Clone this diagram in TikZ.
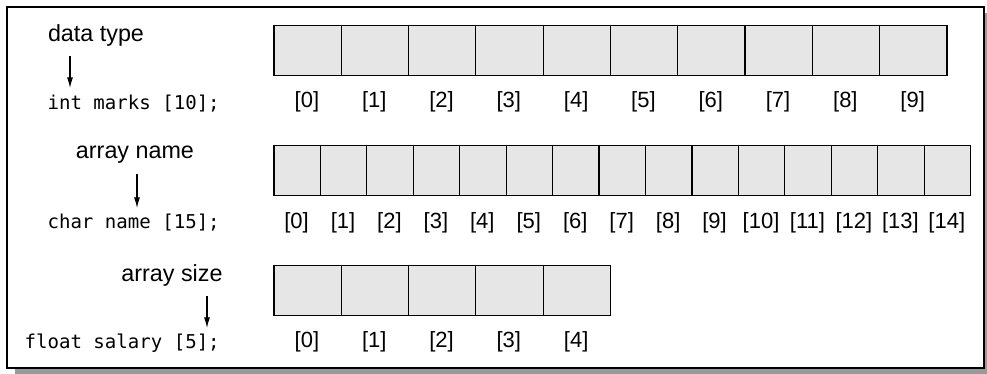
\documentclass[tikz,border=0pt]{standalone}
\usepackage{fontspec}
\setmainfont{Liberation Sans}
\setmonofont{DejaVu Sans Mono}
\usetikzlibrary{arrows.meta,positioning}
\definecolor{cellgray}{HTML}{E6E6E6}
\definecolor{shadowgray}{HTML}{9A9A9A}
\tikzset{
  cell/.style={draw=black, fill=cellgray, line width=0.9pt, minimum height=37.5pt, inner sep=0pt, anchor=north west},
  idx/.style={font=\fontsize{16.5}{19}\selectfont, inner sep=0pt},
  decl/.style={font=\ttfamily\fontsize{14.3}{17}\selectfont, anchor=east, inner sep=0pt},
  tag/.style={font=\fontsize{17.5}{20}\selectfont, inner sep=0pt},
  pointer/.style={-{Latex[length=8pt,width=4.5pt]}, line width=0.8pt}
}
\begin{document}
\begin{tikzpicture}[x=0.75pt,y=-0.75pt]
\useasboundingbox (0,0) rectangle (987,374);
% frame with shadow
\fill[shadowgray] (15,13) rectangle (987,374);
\draw[line width=1.4pt, fill=white] (7,7) rectangle (984,368);

% int marks [10]
\foreach \i in {0,...,9} {
  \node[cell, minimum width=50.475pt] (m\i) at ({273.3+67.3*\i},25) {};
  \node[idx] (mi\i) at ({273.3+67.3*(\i+0.5)},102) {[\i]};
}
% char name [15]
\foreach \i in {0,...,14} {
  \node[cell, minimum width=34.84pt] (n\i) at ({273.3+46.45*\i},145) {};
  \node[idx] (ni\i) at ({273.3+46.45*(\i+0.5)},223) {[\i]};
}
% float salary [5]
\foreach \i in {0,...,4} {
  \node[cell, minimum width=50.475pt] (s\i) at ({273.3+67.3*\i},265) {};
  \node[idx] (si\i) at ({273.3+67.3*(\i+0.5)},342) {[\i]};
}

% declarations
\node[decl] (c1) at (220,104) {int marks [10];};
\node[decl] (c2) at (220,223) {char name [15];};
\node[decl] (c3) at (220,343) {float salary [5];};

% what the parts are
\node[tag] (t1) at (96,35) {data type};
\node[tag] (t2) at (135,155) {array name};
\node[tag] (t3) at (172,275) {array size};
\coordinate (h1) at (70,88);
\coordinate (h2) at (137,208);
\coordinate (h3) at (207,328);
\draw[pointer] ([yshift=-7.5pt]t1.south -| h1) -- (h1);
\draw[pointer] ([yshift=-7.5pt]t2.south -| h2) -- (h2);
\draw[pointer] ([yshift=-7.5pt]t3.south -| h3) -- (h3);
\end{tikzpicture}
\end{document}
